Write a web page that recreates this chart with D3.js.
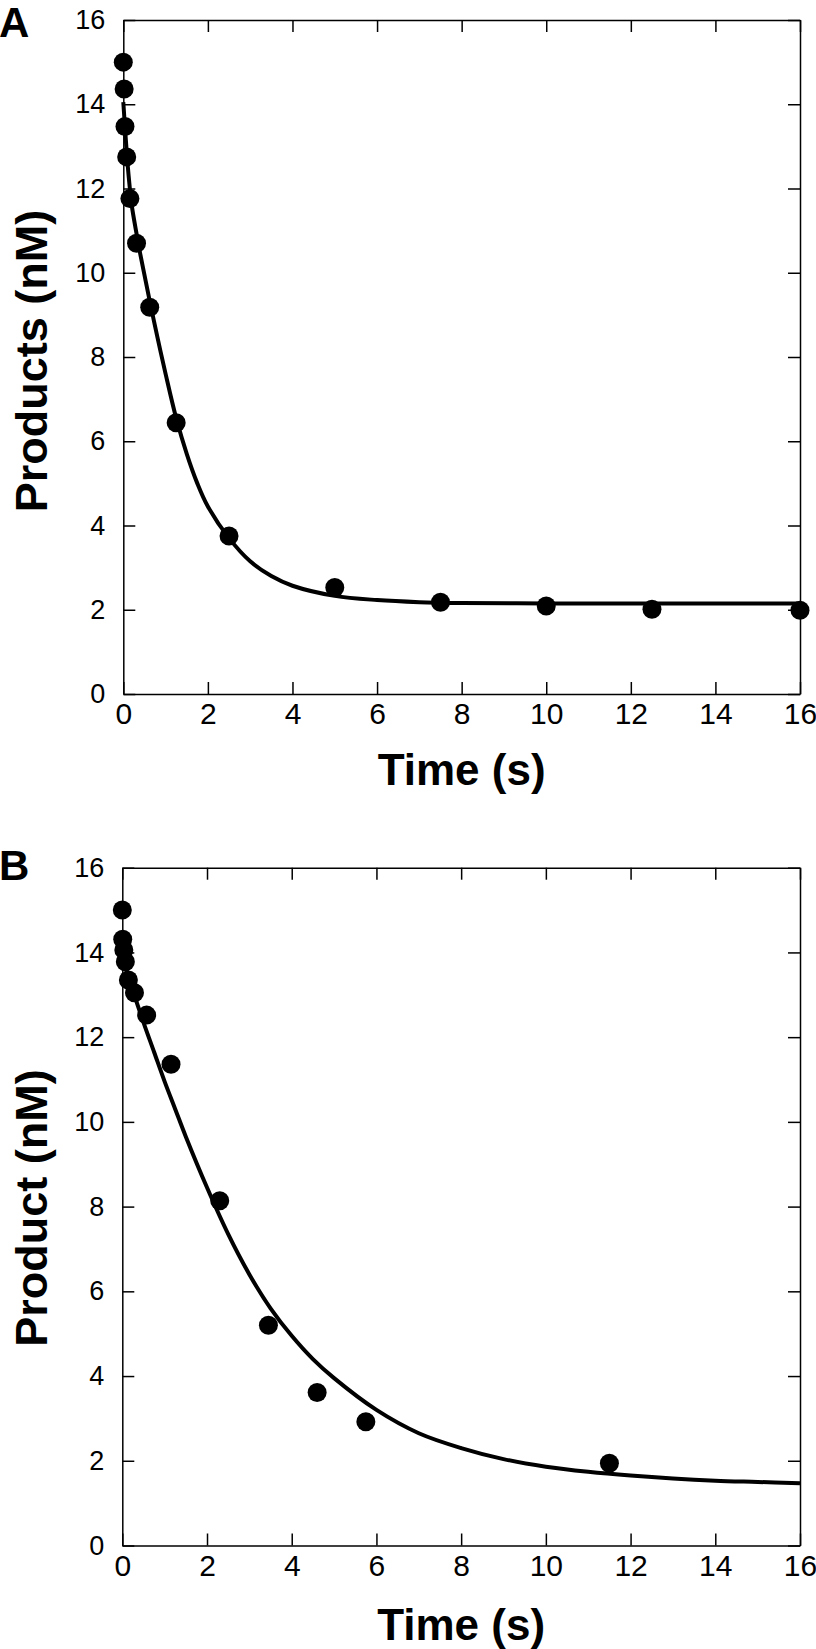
<!DOCTYPE html>
<html>
<head>
<meta charset="utf-8">
<script src="https://cdn.jsdelivr.net/npm/d3@7"></script>
<style>
  html, body { margin: 0; padding: 0; background: #fff; }
  svg { display: block; }
  text { font-family: "Liberation Sans", Arial, sans-serif; fill: #000; }
</style>
</head>
<body>
<svg id="chart" width="816" height="1649"></svg>
<script>
// ---------- data ----------
const xTicks = [0, 2, 4, 6, 8, 10, 12, 14, 16];
const yTicks = [0, 2, 4, 6, 8, 10, 12, 14, 16];

// Panel A: measured points
const timeA     = [0, 0.02, 0.04, 0.08, 0.156, 0.3125, 0.625, 1.25, 2.5, 5, 7.5, 10, 12.5, 16];
const productsA = [15.0, 14.36, 13.47, 12.75, 11.76, 10.70, 9.18, 6.44, 3.75, 2.53, 2.18, 2.09, 2.01, 1.99];
// Panel A: fitted curve
const fitTimeA     = [0, 0.05, 0.1, 0.15, 0.2, 0.3, 0.4, 0.5, 0.6, 0.8, 1.0, 1.25, 1.5, 1.75, 2.0, 2.5, 3, 3.5, 4, 5, 6, 7, 8, 10, 12, 14, 16];
const fitProductsA = [14.05, 13.3, 12.6, 12.05, 11.6, 11.0, 10.45, 9.95, 9.45, 8.5, 7.6, 6.55, 5.7, 5.0, 4.45, 3.7, 3.15, 2.8, 2.57, 2.33, 2.23, 2.18, 2.16, 2.15, 2.15, 2.15, 2.15];

// Panel B: measured points
const timeB     = [0, 0.01, 0.036, 0.072, 0.144, 0.2875, 0.575, 1.15, 2.3, 3.45, 4.6, 5.75, 11.5];
const productsB = [15.0, 14.31, 14.06, 13.78, 13.35, 13.05, 12.52, 11.36, 8.14, 5.2, 3.61, 2.92, 1.94];
// Panel B: fitted curve
const fitTimeB     = [0, 0.25, 0.5, 0.75, 1.0, 1.25, 1.5, 2.0, 2.5, 3.0, 3.5, 4.0, 4.5, 5.0, 6, 7, 8, 9, 10, 11, 12, 13, 14, 15, 16];
const fitProductsB = [13.9, 13.1, 12.35, 11.65, 10.95, 10.3, 9.65, 8.45, 7.35, 6.4, 5.6, 4.95, 4.4, 3.95, 3.2, 2.65, 2.3, 2.04, 1.86, 1.74, 1.65, 1.58, 1.53, 1.5, 1.47];

// ---------- drawing ----------
const svg = d3.select("#chart");

function drawPanel(opt) {
  const x = d3.scaleLinear().domain([0, 16]).range([opt.left, opt.right]);
  const y = d3.scaleLinear().domain([0, 16]).range([opt.bottom, opt.top]);
  const g = svg.append("g");

  const tick = 12;
  const bx = g.append("g").attr("transform", `translate(0,${opt.bottom})`)
    .call(d3.axisBottom(x).tickValues(xTicks).tickSizeInner(-tick).tickSizeOuter(0).tickPadding(9).tickFormat(d3.format("d")));
  bx.selectAll("text").style("font-size", opt.xTickFont + "px");
  g.append("g").attr("transform", `translate(0,${opt.top})`)
    .call(d3.axisTop(x).tickValues(xTicks).tickSizeInner(-tick).tickSizeOuter(0).tickFormat(""));
  const ly = g.append("g").attr("transform", `translate(${opt.left},0)`)
    .call(d3.axisLeft(y).tickValues(yTicks).tickSizeInner(-tick).tickSizeOuter(0).tickPadding(18).tickFormat(d3.format("d")));
  ly.selectAll("text").style("font-size", opt.yTickFont + "px");
  g.append("g").attr("transform", `translate(${opt.right},0)`)
    .call(d3.axisRight(y).tickValues(yTicks).tickSizeInner(-tick).tickSizeOuter(0).tickFormat(""));

  g.selectAll(".domain").attr("stroke", "#000").attr("stroke-width", 1.5);
  g.selectAll(".tick line").attr("stroke", "#000").attr("stroke-width", 1.5);
  g.selectAll(".tick text").attr("fill", "#000").style("font-family", '"Liberation Sans", Arial, sans-serif');

  const fit = opt.fitT.map((t, i) => [t, opt.fitP[i]]);
  g.append("path").datum(fit)
    .attr("fill", "none").attr("stroke", "#000").attr("stroke-width", 4)
    .attr("stroke-linejoin", "round")
    .attr("d", d3.line().x(d => x(d[0])).y(d => y(d[1])).curve(d3.curveCatmullRom.alpha(0.5)));

  const pts = opt.t.map((t, i) => [t, opt.p[i]]);
  g.selectAll("circle.pt").data(pts).enter().append("circle")
    .attr("class", "pt")
    .attr("cx", d => x(d[0])).attr("cy", d => y(d[1])).attr("r", 9.5).attr("fill", "#000");

  g.append("text").attr("x", (opt.left + opt.right) / 2).attr("y", opt.xTitleY)
    .attr("text-anchor", "middle").style("font-size", "44px").style("font-weight", "bold")
    .text("Time (s)");
  g.append("text")
    .attr("transform", `translate(47,${opt.yTitleCenter}) rotate(-90)`)
    .attr("text-anchor", "middle").style("font-size", "45px").style("font-weight", "bold")
    .text(opt.yTitle);

  g.append("text").attr("x", -1).attr("y", opt.letterY)
    .style("font-size", "42px").style("font-weight", "bold").text(opt.letter);
}

drawPanel({
  left: 123.3, right: 800, top: 20, bottom: 694,
  t: timeA, p: productsA, fitT: fitTimeA, fitP: fitProductsA,
  xTitleY: 785, yTitleCenter: 361, yTitle: "Products (nM)",
  letter: "A", letterY: 37, xTickFont: 30, yTickFont: 27
});

drawPanel({
  left: 122.3, right: 800, top: 867.7, bottom: 1545.5,
  t: timeB, p: productsB, fitT: fitTimeB, fitP: fitProductsB,
  xTitleY: 1640, yTitleCenter: 1208, yTitle: "Product (nM)",
  letter: "B", letterY: 880, xTickFont: 30, yTickFont: 27
});
</script>
</body>
</html>
